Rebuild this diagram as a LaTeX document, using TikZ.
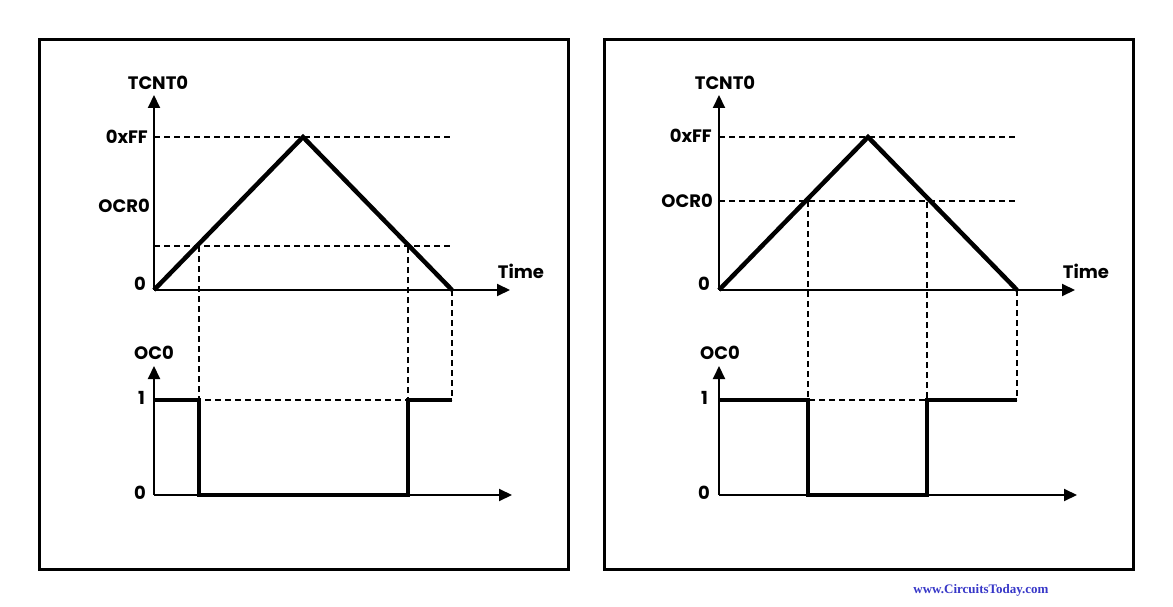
\documentclass[tikz,border=0pt]{standalone}
\usepackage{fontspec}
\setmainfont{Poppins}
\newfontfamily\wmfont{Liberation Serif}
\usetikzlibrary{arrows.meta}
\definecolor{wmblue}{RGB}{55,55,200}

\begin{document}
\begin{tikzpicture}[x=1pt,y=-1pt,
  lbl/.style={font=\fontsize{18}{18}\selectfont\bfseries,inner sep=0pt},
  axis/.style={line width=2pt,-{Triangle[length=13pt,width=12pt]}},
  sig/.style={line width=4.5pt},
  guide/.style={line width=1.1pt,dash pattern=on 6pt off 4pt}]
\useasboundingbox (0,0) rectangle (1173,607);
\fill[white] (0,0) rectangle (1173,607);

% left panel, OCR0 low
\draw[line width=3pt] (39,40) rectangle (568,569);
\draw[guide] (154,137) -- (452,137);
\draw[guide] (154,246) -- (452,246);
\draw[guide] (199,246) -- (199,400) -- (408,400) -- (408,246);
\draw[guide] (452,290) -- (452,400);
\draw[axis] (154,290) -- (154,95);
\draw[axis] (154,290) -- (510,290);
\draw[axis] (154,495) -- (154,366);
\draw[axis] (154,495) -- (512,495);
\draw[sig] (154,290) -- (303,137) -- (452,290);
\draw[sig] (154,400) -- (199,400) -- (199,495) -- (408,495) -- (408,400) -- (452,400);
\node[lbl] (tcntL) at (158,83) {TCNT0};
\node[lbl,anchor=east] (ffL) at (148,137) {0xFF};
\node[lbl,anchor=east] (ocrL) at (150,206) {OCR0};
\node[lbl,anchor=east] (zeroL) at (146,284) {0};
\node[lbl] (timeL) at (521,271) {Time};
\node[lbl] (ocL) at (154,353) {OC0};
\node[lbl,anchor=east] (oneL) at (145,398) {1};
\node[lbl,anchor=east] (lowL) at (146,493) {0};

% right panel, OCR0 high
\begin{scope}[xshift=565pt]
\draw[line width=3pt] (39,40) rectangle (568,569);
\draw[guide] (154,137) -- (452,137);
\draw[guide] (154,201) -- (452,201);
\draw[guide] (243,201) -- (243,400) -- (362,400) -- (362,201);
\draw[guide] (452,290) -- (452,400);
\draw[axis] (154,290) -- (154,95);
\draw[axis] (154,290) -- (510,290);
\draw[axis] (154,495) -- (154,366);
\draw[axis] (154,495) -- (512,495);
\draw[sig] (154,290) -- (303,137) -- (452,290);
\draw[sig] (154,400) -- (243,400) -- (243,495) -- (362,495) -- (362,400) -- (452,400);
\node[lbl] (tcntR) at (160,83) {TCNT0};
\node[lbl,anchor=east] (ffR) at (147,136) {0xFF};
\node[lbl,anchor=east] (ocrR) at (148,201) {OCR0};
\node[lbl,anchor=east] (zeroR) at (145,284) {0};
\node[lbl] (timeR) at (521,271) {Time};
\node[lbl] (ocR) at (155,353) {OC0};
\node[lbl,anchor=east] (oneR) at (143,398) {1};
\node[lbl,anchor=east] (lowR) at (145,493) {0};
\end{scope}

\node[font=\wmfont\fontsize{13}{13}\selectfont\bfseries,text=wmblue] (site) at (981,590) {www.CircuitsToday.com};
\end{tikzpicture}
\end{document}
